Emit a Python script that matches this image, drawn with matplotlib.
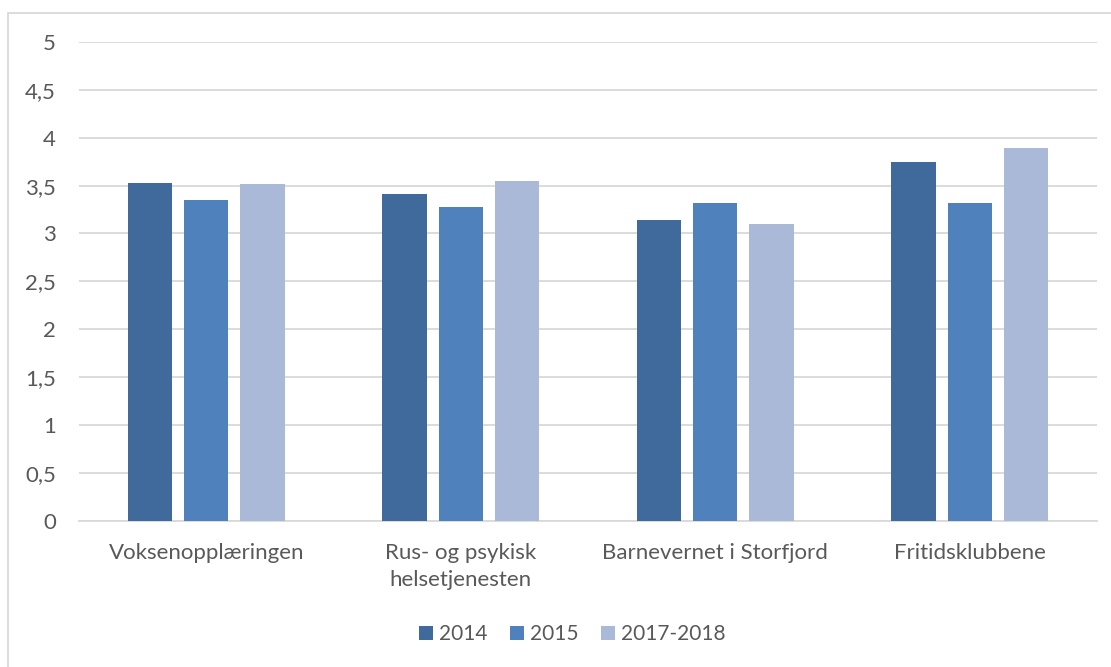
import numpy as np
import matplotlib
matplotlib.use("Agg")
import matplotlib.pyplot as plt
from matplotlib.patches import Rectangle

# data
categories = ["Voksenopplæringen", "Rus- og psykisk\nhelsetjenesten",
              "Barnevernet i Storfjord", "Fritidsklubbene"]
series_names = ["2014", "2015", "2017-2018"]
values_2014 = [3.53, 3.41, 3.14, 3.75]
values_2015 = [3.35, 3.28, 3.32, 3.32]
values_2017_2018 = [3.52, 3.55, 3.10, 3.89]
y_ticks = [0, 0.5, 1, 1.5, 2, 2.5, 3, 3.5, 4, 4.5, 5]
y_tick_labels = ["0", "0,5", "1", "1,5", "2", "2,5", "3", "3,5", "4", "4,5", "5"]

bar_colors = ["#406a9b", "#4f81bd", "#aab9d7"]
text_color = "#595959"
grid_color = "#d9d9d9"

plt.rcParams['font.family'] = ['Lato', 'DejaVu Sans']

fig = plt.figure(figsize=(11.11, 6.67), dpi=100)
ax = fig.add_axes([79 / 1111, 1 - 520.7 / 667, (1097 - 79) / 1111, (520.7 - 42) / 667])

x = np.arange(len(categories))
width = 0.173
pitch = 0.221
all_series = [values_2014, values_2015, values_2017_2018]
for i, (name, vals) in enumerate(zip(series_names, all_series)):
    ax.bar(x + (i - 1) * pitch, vals, width, color=bar_colors[i], label=name,
           zorder=3)

ax.set_xlim(-0.5, len(categories) - 0.5)
ax.set_ylim(0, 5)
ax.set_yticks(y_ticks)
ax.set_yticklabels(y_tick_labels)
ax.set_xticks(x)
ax.set_xticklabels(categories, linespacing=1.45)
ax.yaxis.grid(True, color=grid_color, linewidth=1.3, zorder=0)
ax.set_axisbelow(True)
for side in ["top", "right", "left"]:
    ax.spines[side].set_visible(False)
ax.spines["bottom"].set_color(grid_color)
ax.spines["bottom"].set_linewidth(1.3)
ax.tick_params(axis="both", length=0, labelsize=16, labelcolor=text_color)
ax.tick_params(axis="y", pad=16.5)
ax.tick_params(axis="x", pad=16)

# chart area border (only left and top visible in the crop)
fig.patches.append(Rectangle((8 / 1111, -0.1), 1.2, 1 - 13 / 667 + 0.1,
                             transform=fig.transFigure, fill=False,
                             edgecolor=grid_color, linewidth=1.3))

fig.legend(loc="center", bbox_to_anchor=(572 / 1111, 1 - 634 / 667), ncol=3,
           frameon=False, fontsize=15, labelcolor=text_color,
           handlelength=0.67, handleheight=0.67, handletextpad=0.27,
           columnspacing=1.1)

fig.savefig("out.png", dpi=100)
